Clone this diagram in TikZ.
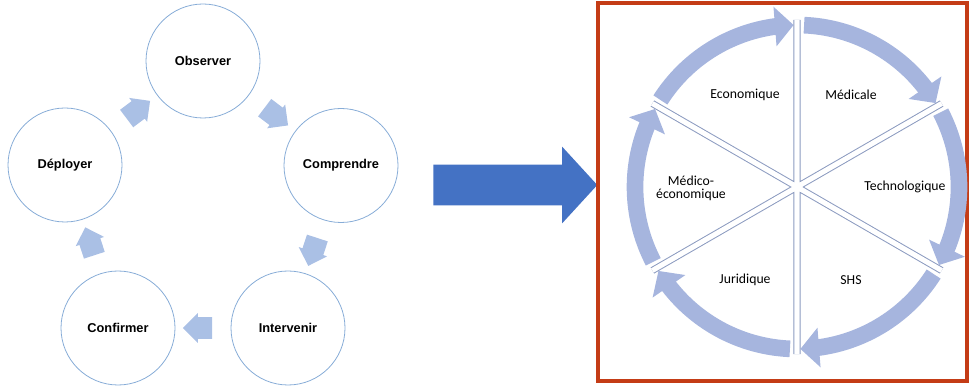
\documentclass[tikz,border=0pt]{standalone}
\usepackage{fontspec}
\setmainfont{Liberation Sans}
\newfontfamily\calibri{Carlito}
\usepackage{tikz}
\usetikzlibrary{positioning,arrows.meta,shapes.arrows,calc,bending}

\definecolor{cerclebord}{RGB}{135,172,215}
\definecolor{petitcol}{RGB}{170,192,229}
\definecolor{anneaucol}{RGB}{166,181,222}
\definecolor{rayoncol}{RGB}{140,155,192}
\definecolor{bleufort}{RGB}{68,114,196}
\definecolor{rouge}{RGB}{196,60,22}

\begin{document}
\begin{tikzpicture}[
    x=0.75pt, y=0.75pt,
    etape/.style={draw=cerclebord, line width=0.6pt, circle,
                  minimum size=85.5pt, inner sep=0pt,
                  font=\fontsize{9.6}{11}\selectfont\bfseries},
    petit/.style={single arrow, fill=petitcol, inner xsep=0pt, inner ysep=8pt,
                  minimum height=22pt, single arrow head extend=3pt},
    grandefleche/.style={single arrow, fill=bleufort, inner xsep=0pt, inner ysep=15pt,
                  minimum height=123pt, single arrow head extend=13.5pt,
                  single arrow tip angle=95},
    secteur/.style={inner sep=1pt, align=center,
                  font=\calibri\fontsize{10.3}{9.6}\selectfont},
    anneau/.style={line width=12.5pt, anneaucol,
                  -{Triangle[length=14pt, width=29pt]}},
    rayon/.style={draw=rayoncol, line width=0.75pt,
                  double=white, double distance=3.8pt}
  ]
    \useasboundingbox (0,0) rectangle (969,385);

    % cycle de gauche
    \node[etape] (obs)   at (203,324) {Observer};
    \node[etape] (comp)  at (341,219.5) {Comprendre};
    \node[etape] (inter) at (288,57) {Intervenir};
    \node[etape] (conf)  at (118,57) {Confirmer};
    \node[etape] (depl)  at (65,220) {D\'eployer};
    \path (obs) -- node[petit, sloped, allow upside down] (f1) {} (comp);
    \path (comp) -- node[petit, sloped, allow upside down] (f2) {} (inter);
    \path (inter) -- node[petit, sloped, allow upside down] (f3) {} (conf);
    \path (conf) -- node[petit, sloped, allow upside down] (f4) {} (depl);
    \path (depl) -- node[petit, sloped, allow upside down] (f5) {} (obs);

    % grande fleche
    \node[grandefleche, anchor=tail] (vers) at (433,200) {};

    % cadre de droite
    \node[draw=rouge, line width=3pt, inner sep=0pt,
          minimum width=276.75pt, minimum height=283.5pt] (cadre) at (782.5,193) {};
    \coordinate (ctr) at (797,198);
    \draw[anneau] ([shift={(87.5:162)}]ctr) arc[start angle=87.5, end angle=31.2, radius=162];
    \draw[anneau] ([shift={(27.5:162)}]ctr) arc[start angle=27.5, end angle=-28.8, radius=162];
    \draw[anneau] ([shift={(-32.5:162)}]ctr) arc[start angle=-32.5, end angle=-88.8, radius=162];
    \draw[anneau] ([shift={(-92.5:162)}]ctr) arc[start angle=-92.5, end angle=-148.8, radius=162];
    \draw[anneau] ([shift={(-152.5:162)}]ctr) arc[start angle=-152.5, end angle=-208.8, radius=162];
    \draw[anneau] ([shift={(147.5:162)}]ctr) arc[start angle=147.5, end angle=91.2, radius=162];
    \coordinate (r1) at ([shift={(90:167)}]ctr);
    \coordinate (r2) at ([shift={(30:167)}]ctr);
    \coordinate (r3) at ([shift={(-30:167)}]ctr);
    \coordinate (r4) at ([shift={(-90:167)}]ctr);
    \coordinate (r5) at ([shift={(-150:167)}]ctr);
    \coordinate (r6) at ([shift={(150:167)}]ctr);
    \draw[rayon] (r1) -- (r4) (r2) -- (r5) (r3) -- (r6);

    \node[secteur] (eco)  at (745,290) {Economique};
    \node[secteur] (med)  at (851,290) {M\'edicale};
    \node[secteur] (tech) at (905,198) {Technologique};
    \node[secteur] (shs)  at (851,105) {SHS};
    \node[secteur] (jur)  at (745,105) {Juridique};
    \node[secteur] (meco) at (691,197) {M\'edico-\\\'economique};
\end{tikzpicture}
\end{document}
